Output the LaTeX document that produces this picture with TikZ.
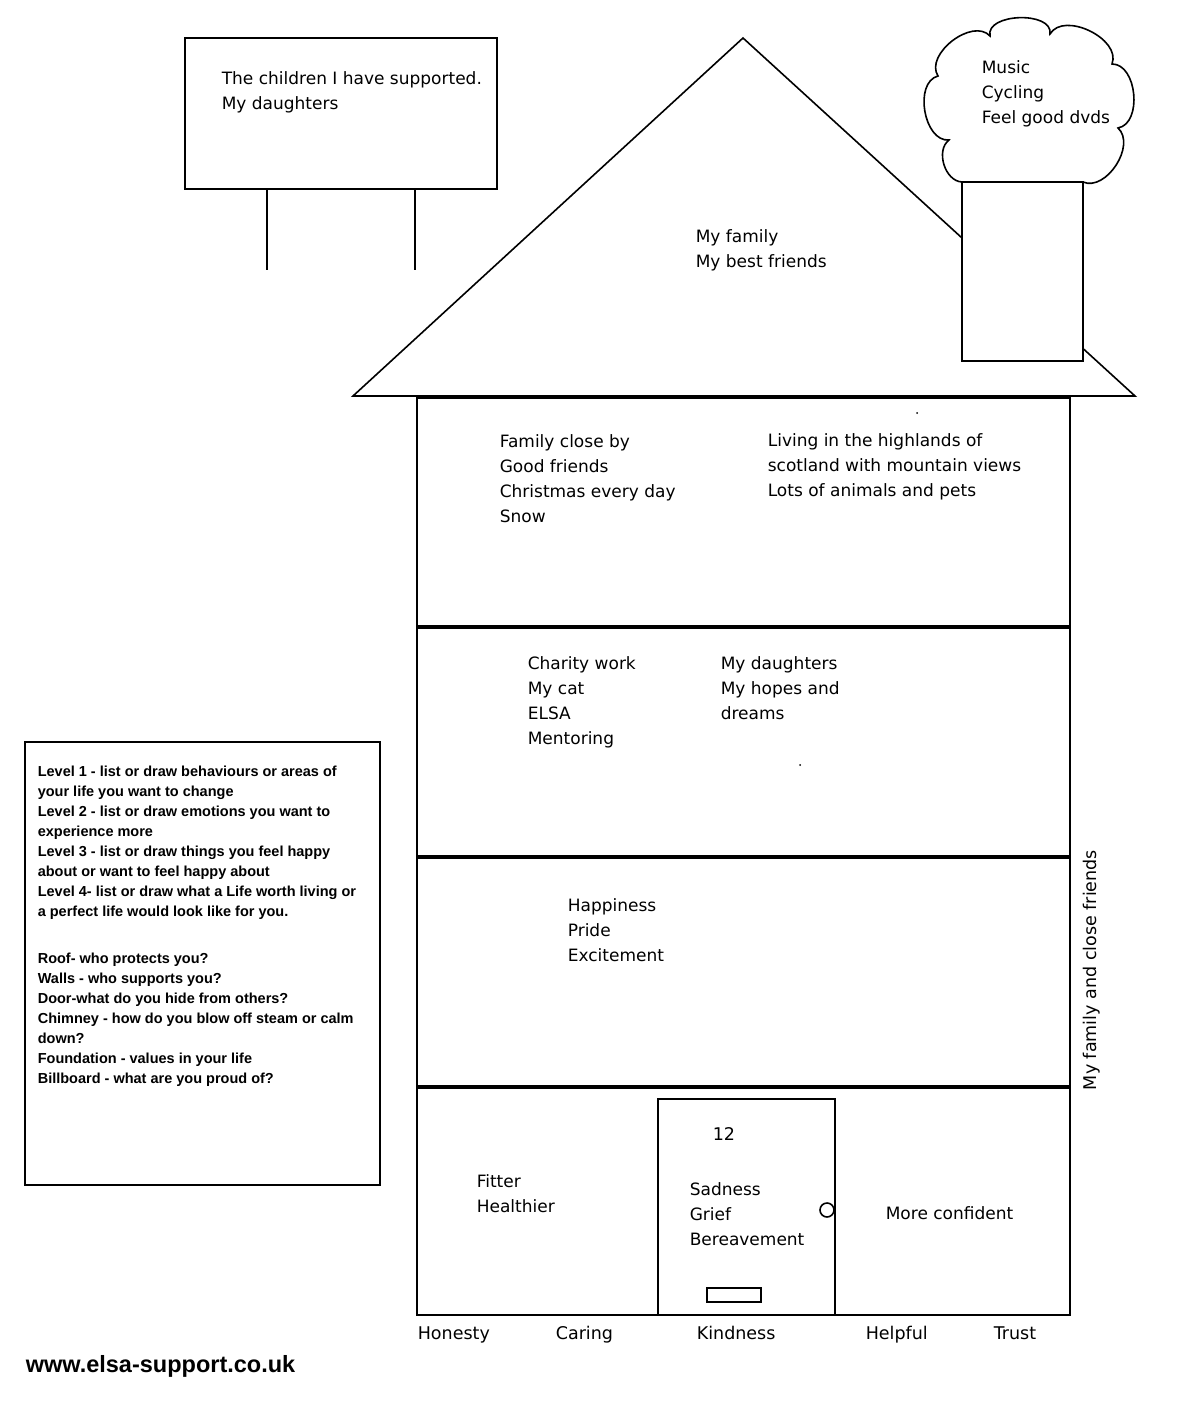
\documentclass[tikz,border=0pt]{standalone}
\usepackage{fontspec}
\setmainfont{DejaVu Sans}
\newfontfamily\notefont{Liberation Sans}
\usetikzlibrary{positioning}

\begin{document}
\begin{tikzpicture}[x=1pt, y=-1pt, line width=1.6pt,
  hand/.style={anchor=north west, inner sep=0pt, align=left, font=\fontsize{17}{25}\selectfont},
  note/.style={anchor=north west, inner sep=0pt, align=left, font=\notefont\bfseries\fontsize{14.5}{20}\selectfont},
  value/.style={anchor=base west, inner sep=0pt, font=\fontsize{17.5}{25}\selectfont}]
\useasboundingbox (0,0) rectangle (1190,1410);

%billboard
\draw (185,38) rectangle (497,189);
\draw (267,189) -- (267,270); %left post
\draw (415,189) -- (415,270); %right post
\node[hand] (proud) at (221,71) {The children I have supported.\\My daughters};

%roof
\draw (353,396) -- (743,38) -- (1135,396) -- cycle;
\node[hand] (protect) at (695,229) {My family\\My best friends};

%cloud of steam
\draw (962,182) to[bend left=70] (949,140) to[bend left=85] (938,76)
  to[bend left=85] (990,36) to[bend left=100] (1050,34) to[bend left=85] (1112,64)
  to[bend left=85] (1118,128) to[bend left=80] (1083,182);
%chimney
\draw[fill=white] (962,182) rectangle (1083,361);
\node[hand] (steam) at (981,60) {Music\\Cycling\\Feel good dvds};

%the four levels
\draw (417,398) rectangle (1070,626);
\draw (417,628) rectangle (1070,856);
\draw (417,858) rectangle (1070,1086);
\draw (417,1088) rectangle (1070,1315);

%level 4
\node[hand] (perfect1) at (499,434) {Family close by\\Good friends\\Christmas every day\\Snow};
\node[hand] (perfect2) at (767,433) {Living in the highlands of\\scotland with mountain views\\Lots of animals and pets};
\fill (917,413) circle (1pt);
%level 3
\node[hand] (happy1) at (527,656) {Charity work\\My cat\\ELSA\\Mentoring};
\node[hand] (happy2) at (720,656) {My daughters\\My hopes and\\dreams};
\fill (800,765) circle (1pt);
%level 2
\node[hand] (emotions) at (567,898) {Happiness\\Pride\\Excitement};
%level 1
\node[hand] (change1) at (476,1174) {Fitter\\Healthier};
\node[hand] (change2) at (885,1206) {More confident};

%door
\draw (658,1099) rectangle (835,1315);
\draw[fill=white] (827,1210) circle (7pt); %door knob
\draw (707,1288) rectangle (761,1302); %letter box
\node[value] (number) at (712,1140) {12};
\node[hand] (hide) at (689,1182) {Sadness\\Grief\\Bereavement};

%walls
\node[rotate=90, inner sep=0pt, font=\fontsize{17.5}{25}\selectfont] (walls) at (1092,970) {My family and close friends};

%foundation
\foreach \word/\x in {Honesty/417, Caring/555, Kindness/696, Helpful/865, Trust/993}
  \node[value] (\word) at (\x,1339) {\word};

%key box
\draw (25,742) rectangle (380,1185);
\node[note] (key) at (37,765) {Level 1 - list or draw behaviours or areas of\\your life you want to change\\Level 2 - list or draw emotions you want to\\experience more\\Level 3 - list or draw things you feel happy\\about or want to feel happy about\\Level 4- list or draw what a Life worth living or\\a perfect life would look like for you.\\[27pt]Roof- who protects you?\\Walls - who supports you?\\Door-what do you hide from others?\\Chimney - how do you blow off steam or calm\\down?\\Foundation - values in your life\\Billboard - what are you proud of?};

\node[anchor=base west, inner sep=0pt, font=\notefont\bfseries\fontsize{23.5}{24}\selectfont] (site) at (25,1372) {www.elsa-support.co.uk};
\end{tikzpicture}
\end{document}
